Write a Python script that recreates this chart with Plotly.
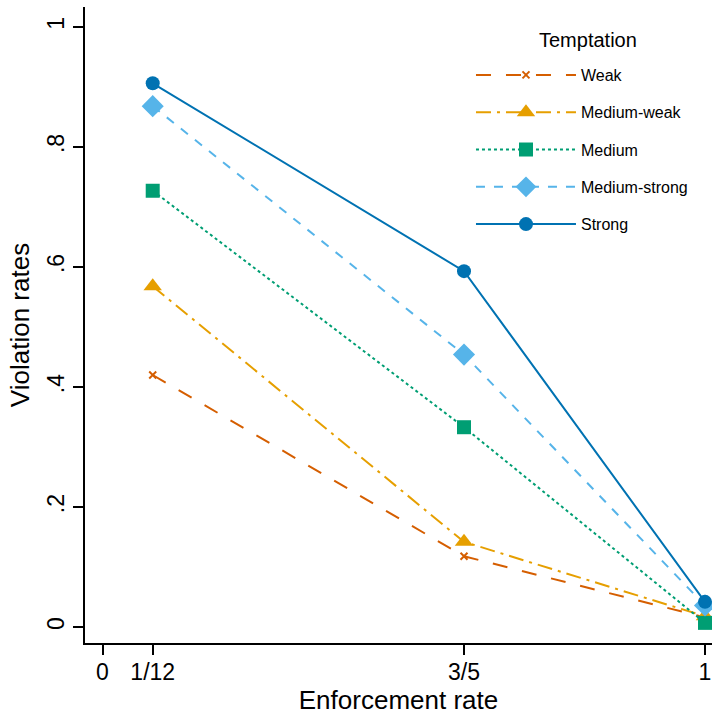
import plotly.graph_objects as go

x_vals = [1/12, 3/5, 1]
x_tickvals = [0, 1/12, 3/5, 1]
x_ticktext = ["0", "1/12", "3/5", "1"]
y_tickvals = [0, 0.2, 0.4, 0.6, 0.8, 1]
y_ticktext = ["0", ".2", ".4", ".6", ".8", "1"]

series_names = ["Weak", "Medium-weak", "Medium", "Medium-strong", "Strong"]
weak = [0.420, 0.118, 0.016]
medium_weak = [0.568, 0.142, 0.018]
medium = [0.727, 0.333, 0.007]
medium_strong = [0.868, 0.454, 0.036]
strong = [0.906, 0.593, 0.042]
series_values = [weak, medium_weak, medium, medium_strong, strong]
legend_title = "Temptation"

colors = ["#D55E00", "#E69F00", "#009E73", "#56B4E9", "#0072B2"]
dashes = ["longdash", "longdashdot", "dot", "dash", "solid"]
symbols = ["x-thin", "triangle-up", "square", "diamond", "circle"]
sizes = [7, 16, 14, 17, 14]

FONT = "Liberation Sans, Arial, Helvetica, sans-serif"

fig = go.Figure()
for i, (name, vals) in enumerate(zip(series_names, series_values)):
    sym = symbols[i]
    fig.add_trace(go.Scatter(
        x=x_vals, y=vals, name=name, mode="lines+markers",
        legendgroup=name,
        line=dict(color=colors[i], width=2, dash=dashes[i]),
        marker=dict(symbol=sym, size=sizes[i], color=colors[i],
                    line=dict(color=colors[i], width=2 if sym == "x-thin" else 0)),
        cliponaxis=False,
    ))

fig.add_annotation(
    text=legend_title, xref="paper", yref="paper", x=0.802, y=0.948,
    xanchor="center", yanchor="middle", showarrow=False,
    font=dict(size=20, family=FONT, color="black"),
)

fig.update_layout(
    width=712, height=718,
    margin=dict(l=85, r=0, t=7, b=75),
    plot_bgcolor="white", paper_bgcolor="white",
    font=dict(family=FONT, color="black"),
    legend=dict(
        x=0.6156, y=0.9198, xanchor="left", yanchor="top",
        font=dict(size=16), tracegroupgap=13.5, traceorder="grouped",
        itemwidth=100,
        bgcolor="rgba(0,0,0,0)", borderwidth=0,
    ),
    showlegend=True,
)
fig.update_xaxes(
    range=[-17.5/602.5, 609.5/602.5], tickvals=x_tickvals, ticktext=x_ticktext,
    showline=True, linecolor="black", linewidth=2, showgrid=False, zeroline=False,
    ticks="outside", ticklen=10, tickwidth=1.5, tickcolor="black",
    tickfont=dict(size=23), ticklabeloverflow="allow", ticklabelstandoff=-3,
    title=dict(text="Enforcement rate", font=dict(size=26), standoff=2),
)
fig.update_yaxes(
    range=[-16/603, 1 + 20/603], tickvals=y_tickvals, ticktext=y_ticktext,
    showline=True, linecolor="black", linewidth=2, showgrid=False, zeroline=False,
    ticks="outside", ticklen=10, tickwidth=1.5, tickcolor="black",
    tickfont=dict(size=23), tickangle=-90,
    title=dict(text="Violation rates", font=dict(size=26), standoff=6),
)

fig.write_html("out.html")
